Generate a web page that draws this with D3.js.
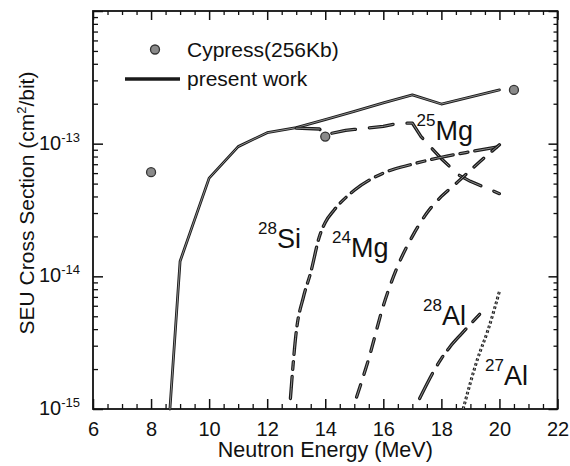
<!DOCTYPE html>
<html><head><meta charset="utf-8">
<script src="https://cdn.jsdelivr.net/npm/d3@7"></script>
<style>
html,body{margin:0;padding:0;background:#fff;}
svg{display:block;background:#fff;}
text{font-family:"Liberation Sans",Arial,sans-serif;fill:#111;}
</style></head><body>
<svg id="chart" width="570" height="466"></svg>
<script>
// ---------------- data ----------------
const xTicks = [6, 8, 10, 12, 14, 16, 18, 20, 22];
const yTickExps = [-15, -14, -13];

const cypressE = [8, 14, 20.5];
const cypressSigma = [6.1e-14, 1.13e-13, 2.54e-13];

const presentE = [8.65, 9, 10, 11, 12, 13, 14, 15, 16, 17, 18, 20];
const presentSigma = [1e-15, 1.3e-14, 5.5e-14, 9.5e-14, 1.21e-13, 1.32e-13, 1.52e-13, 1.75e-13, 2.03e-13, 2.33e-13, 1.99e-13, 2.54e-13];

const mg25E = [13, 13.8, 14, 14.7, 15, 16, 16.5, 17, 17.3, 18, 18.6, 19, 20];
const mg25Sigma = [1.31e-13, 1.29e-13, 1.17e-13, 1.26e-13, 1.28e-13, 1.35e-13, 1.42e-13, 1.43e-13, 1.13e-13, 7.7e-14, 5.8e-14, 5.2e-14, 4.2e-14];

const si28E = [12.8, 13.0, 13.25, 13.5, 13.8, 14.0, 14.3, 15, 16, 17, 18, 19, 20];
const si28Sigma = [1.2e-15, 3.8e-15, 7.0e-15, 1.07e-14, 2.0e-14, 2.55e-14, 3.15e-14, 4.45e-14, 6.0e-14, 7.0e-14, 7.9e-14, 8.7e-14, 9.5e-14];

const mg24E = [15.08, 15.5, 16, 16.5, 17, 17.5, 18, 18.5, 19, 19.5, 20];
const mg24Sigma = [1.23e-15, 2.4e-15, 6.0e-15, 1.2e-14, 2.0e-14, 3.0e-14, 4.0e-14, 5.0e-14, 6.3e-14, 7.9e-14, 9.8e-14];

const al28E = [17.25, 18.0, 18.3, 18.7, 19.5];
const al28Sigma = [1.2e-15, 2.4e-15, 2.95e-15, 3.7e-15, 5.7e-15];

const al27E = [18.75, 19.25, 19.6, 20.0];
const al27Sigma = [1.0e-15, 2.4e-15, 3.9e-15, 7.7e-15];

// ---------------- chart ----------------
const svg = d3.select("#chart");
const L = 93, R = 557.5, T = 11, B = 409;
const x = d3.scaleLinear().domain([6, 22]).range([L, R]);
const y = d3.scaleLog().domain([1e-15, 1e-12]).range([B, T]);

const minorX = d3.range(6.5, 22, 0.5).filter(v => Math.abs(v / 2 - Math.round(v / 2)) > 1e-6);
const majorY = [1e-15, 1e-14, 1e-13, 1e-12];
const minorY = [];
[-15, -14, -13].forEach(e => { for (let k = 2; k <= 9; k++) minorY.push(k * Math.pow(10, e)); });

function styleAxis(g, w) {
  g.select(".domain").remove();
  g.selectAll(".tick line").attr("stroke", "#111").attr("stroke-width", w);
}

// bottom
svg.append("g").attr("transform", `translate(0,${B})`)
  .call(d3.axisBottom(x).tickValues(xTicks).tickSize(-10).tickPadding(13).tickFormat(d3.format("d")))
  .call(g => styleAxis(g, 1.5))
  .call(g => g.selectAll("text").attr("font-size", 20).attr("font-family", '"Liberation Sans",Arial,sans-serif').attr("fill", "#111"));
svg.append("g").attr("transform", `translate(0,${B})`)
  .call(d3.axisBottom(x).tickValues(minorX).tickSize(-5).tickFormat(() => ""))
  .call(g => styleAxis(g, 1.3));
// top
svg.append("g").attr("transform", `translate(0,${T})`)
  .call(d3.axisTop(x).tickValues(xTicks).tickSize(-9).tickFormat(() => ""))
  .call(g => styleAxis(g, 1.5));
svg.append("g").attr("transform", `translate(0,${T})`)
  .call(d3.axisTop(x).tickValues(minorX).tickSize(-4).tickFormat(() => ""))
  .call(g => styleAxis(g, 1.3));
// left
svg.append("g").attr("transform", `translate(${L},0)`)
  .call(d3.axisLeft(y).tickValues(majorY).tickSize(-10).tickFormat(() => ""))
  .call(g => styleAxis(g, 1.5));
svg.append("g").attr("transform", `translate(${L},0)`)
  .call(d3.axisLeft(y).tickValues(minorY).tickSize(-5).tickFormat(() => ""))
  .call(g => styleAxis(g, 1.3));
// right
svg.append("g").attr("transform", `translate(${R},0)`)
  .call(d3.axisRight(y).tickValues(majorY).tickSize(-9).tickFormat(() => ""))
  .call(g => styleAxis(g, 1.5));
svg.append("g").attr("transform", `translate(${R},0)`)
  .call(d3.axisRight(y).tickValues(minorY).tickSize(-4).tickFormat(() => ""))
  .call(g => styleAxis(g, 1.3));

// frame
svg.append("rect").attr("x", L).attr("y", T).attr("width", R - L).attr("height", B - T)
  .attr("fill", "none").attr("stroke", "#111").attr("stroke-width", 1.8);

// y tick labels
yTickExps.forEach(e => {
  const t = svg.append("text").attr("x", 80).attr("y", y(Math.pow(10, e)) + 6).attr("text-anchor", "end");
  t.append("tspan").attr("font-size", 20).text("10");
  t.append("tspan").attr("font-size", 13).attr("dy", -8).text(String(e));
});

// axis titles
svg.append("text").attr("x", (L + R) / 2).attr("y", 457).attr("text-anchor", "middle")
  .attr("font-size", 21.5).text("Neutron Energy (MeV)");
const yt = svg.append("text").attr("transform", "translate(34,203) rotate(-90)")
  .attr("text-anchor", "middle").attr("font-size", 21);
yt.append("tspan").text("SEU Cross Section (cm");
yt.append("tspan").attr("font-size", 13).attr("dy", -8).text("2");
yt.append("tspan").attr("dy", 8).text("/bit)");

// series
function zip(E, S) { return E.map((e, i) => ({ e, s: S[i] })); }
function drawSeries(E, S, dash, curve, wOuter, cap) {
  const line = d3.line().x(d => x(d.e)).y(d => y(d.s)).curve(curve);
  const data = zip(E, S);
  const d = line(data);
  svg.append("path").attr("d", d).attr("fill", "none").attr("stroke", "#1a1a1a")
    .attr("stroke-width", wOuter).attr("stroke-dasharray", dash).attr("stroke-linecap", cap).attr("stroke-linejoin", "round");
  svg.append("path").attr("d", d).attr("fill", "none").attr("stroke", "#9a9a9a")
    .attr("stroke-width", 0.9).attr("stroke-dasharray", dash).attr("stroke-linecap", cap).attr("stroke-linejoin", "round");
}

drawSeries(presentE, presentSigma, null, d3.curveLinear, 2.8, "round");
drawSeries(mg25E, mg25Sigma, "24,14", d3.curveLinear, 3.3, "round");
drawSeries(si28E, si28Sigma, "22,7,8,7", d3.curveMonotoneX, 3.3, "round");
drawSeries(mg24E, mg24Sigma, "13,11", d3.curveMonotoneX, 3.3, "round");
drawSeries(al28E, al28Sigma, "28,10,10,8", d3.curveMonotoneX, 3.3, "round");
drawSeries(al27E, al27Sigma, "2.6,2.4", d3.curveMonotoneX, 3.0, "butt");

// Cypress points
svg.append("g").selectAll("circle").data(zip(cypressE, cypressSigma)).join("circle")
  .attr("cx", d => x(d.e)).attr("cy", d => y(d.s)).attr("r", 4.5)
  .attr("fill", "#8a8a8a").attr("stroke", "#333").attr("stroke-width", 1.3);

// legend
svg.append("circle").attr("cx", 155).attr("cy", 49.5).attr("r", 4.5)
  .attr("fill", "#8a8a8a").attr("stroke", "#333").attr("stroke-width", 1.3);
svg.append("text").attr("x", 187).attr("y", 57).attr("font-size", 21).text("Cypress(256Kb)");
svg.append("line").attr("x1", 125).attr("x2", 180).attr("y1", 79).attr("y2", 79)
  .attr("stroke", "#1a1a1a").attr("stroke-width", 3.4);
svg.append("text").attr("x", 187).attr("y", 86).attr("font-size", 21).text("present work");

// isotope labels
function isoLabel(px, base, sup, main) {
  const t = svg.append("text").attr("x", px).attr("y", base);
  t.append("tspan").attr("font-size", 17).attr("dy", -14).text(sup);
  t.append("tspan").attr("font-size", 27).attr("dy", 14).text(main);
}
isoLabel(416.5, 140, "25", "Mg");
isoLabel(258, 248, "28", "Si");
isoLabel(332, 257, "24", "Mg");
isoLabel(423, 325, "28", "Al");
isoLabel(485, 385, "27", "Al");
</script>
</body></html>
